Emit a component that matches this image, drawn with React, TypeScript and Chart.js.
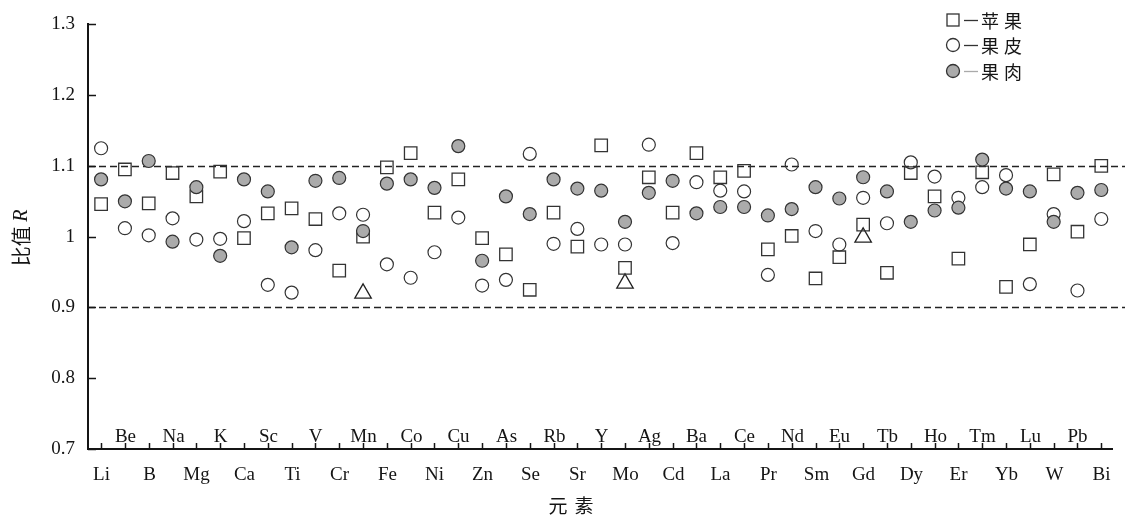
import React, { useEffect, useRef } from "react";
import { Chart, registerables } from "chart.js";

Chart.register(...registerables);

// ---- data ----
const elements = [
  "Li", "Be", "B", "Na", "Mg", "K", "Ca", "Sc", "Ti", "V", "Cr", "Mn", "Fe", "Co", "Ni",
  "Cu", "Zn", "As", "Se", "Rb", "Sr", "Y", "Mo", "Ag", "Cd", "Ba", "La", "Ce", "Pr", "Nd",
  "Sm", "Eu", "Gd", "Tb", "Dy", "Ho", "Er", "Tm", "Yb", "Lu", "W", "Pb", "Bi",
];

// 苹果 (square)
const appleValues = [
  1.046, 1.095, 1.047, 1.090, 1.057, 1.092, 0.998, 1.033, 1.040, 1.025, 0.952, 1.000, 1.098, 1.118, 1.034,
  1.081, 0.998, 0.975, 0.925, 1.034, 0.986, 1.129, 0.956, 1.084, 1.034, 1.118, 1.084, 1.093, 0.982, 1.001,
  0.941, 0.971, 1.017, 0.949, 1.090, 1.057, 0.969, 1.091, 0.929, 0.989, 1.088, 1.007, 1.100,
];

// 果皮 (open circle)
const peelValues = [
  1.125, 1.012, 1.002, 1.026, 0.996, 0.997, 1.022, 0.932, 0.921, 0.981, 1.033, 1.031, 0.961, 0.942, 0.978,
  1.027, 0.931, 0.939, 1.117, 0.990, 1.011, 0.989, 0.989, 1.130, 0.991, 1.077, 1.065, 1.064, 0.946, 1.102,
  1.008, 0.989, 1.055, 1.019, 1.105, 1.085, 1.055, 1.070, 1.087, 0.933, 1.032, 0.924, 1.025,
];

// 果肉 (filled circle)
const fleshValues = [
  1.081, 1.050, 1.107, 0.993, 1.070, 0.973, 1.081, 1.064, 0.985, 1.079, 1.083, 1.008, 1.075, 1.081, 1.069,
  1.128, 0.966, 1.057, 1.032, 1.081, 1.068, 1.065, 1.021, 1.062, 1.079, 1.033, 1.042, 1.042, 1.030, 1.039,
  1.070, 1.054, 1.084, 1.064, 1.021, 1.037, 1.041, 1.109, 1.068, 1.064, 1.021, 1.062, 1.066,
];

// triangle markers (not in legend)
const triangleElements = ["Mn", "Mo", "Gd"];
const triangleValues = [0.920, 0.934, 0.999];

const referenceLines = [1.1, 0.9];
const yMin = 0.7;
const yMax = 1.3;
const yStep = 0.1;

const legendLabels = ["苹果", "果皮", "果肉"];
const xTitle = "元素";
const yTitleCJK = "比值";
const yTitleVar = "R";

const SERIF = '"Liberation Serif", "Times New Roman", serif';
const CJK = '"Noto Sans CJK SC", "Liberation Serif", sans-serif';
const INK = "#151515";
const FILL_GRAY = "#ababab";

const toPoints = (vals: number[]) => vals.map((v, i) => ({ x: i, y: v }));

const decorPlugin = {
  id: "decor",
  beforeDatasetsDraw(chart: any) {
    const { ctx, chartArea, scales } = chart;
    const y = scales.y;
    ctx.save();
    ctx.strokeStyle = "#222";
    ctx.lineWidth = 1.5;
    ctx.setLineDash([7, 4]);
    for (const v of referenceLines) {
      const py = Math.round(y.getPixelForValue(v)) + 0.5;
      ctx.beginPath();
      ctx.moveTo(chartArea.left, py);
      ctx.lineTo(chart.width - 8, py);
      ctx.stroke();
    }
    ctx.restore();
  },
  afterDraw(chart: any) {
    const { ctx, chartArea, scales } = chart;
    const x = scales.x;
    const y = scales.y;
    ctx.save();
    ctx.setLineDash([]);
    ctx.strokeStyle = INK;
    ctx.lineWidth = 1.5;
    // inward y tick marks
    for (let v = yMin; v <= yMax + 1e-9; v += yStep) {
      const py = Math.round(y.getPixelForValue(v)) + 0.5;
      ctx.beginPath();
      ctx.moveTo(chartArea.left, py);
      ctx.lineTo(chartArea.left + 8, py);
      ctx.stroke();
    }
    // upward x tick marks + two-row labels
    ctx.fillStyle = INK;
    ctx.font = `19px ${SERIF}`;
    ctx.textAlign = "center";
    ctx.textBaseline = "alphabetic";
    elements.forEach((el, i) => {
      const px = Math.round(x.getPixelForValue(i)) + 0.5;
      ctx.beginPath();
      ctx.moveTo(px, chartArea.bottom);
      ctx.lineTo(px, chartArea.bottom - 6);
      ctx.stroke();
      if (i % 2 === 0) ctx.fillText(el, px, chartArea.bottom + 31);
      else ctx.fillText(el, px, chartArea.bottom - 7);
    });

    // x title
    ctx.font = `19px ${CJK}`;
    ctx.textBaseline = "middle";
    const xt = Array.from(xTitle);
    const xc = 571;
    xt.forEach((ch, k) => {
      ctx.fillText(ch, xc + (k - (xt.length - 1) / 2) * 26, 506);
    });

    // y title (rotated)
    ctx.save();
    ctx.translate(21, 238);
    ctx.rotate(-Math.PI / 2);
    ctx.textAlign = "left";
    ctx.textBaseline = "middle";
    ctx.font = `20px ${CJK}`;
    const w1 = ctx.measureText(yTitleCJK + " ").width;
    ctx.font = `italic 20px ${SERIF}`;
    const w2 = ctx.measureText(yTitleVar).width;
    const start = -(w1 + w2) / 2;
    ctx.font = `20px ${CJK}`;
    ctx.fillText(yTitleCJK + " ", start, 0);
    ctx.font = `italic 20px ${SERIF}`;
    ctx.fillText(yTitleVar, start + w1, 1);
    ctx.restore();

    // legend
    const lx = 953;
    const rows = [20, 45, 71];
    ctx.lineWidth = 1.3;
    ctx.strokeStyle = "#333";
    // square
    ctx.strokeRect(lx - 6, rows[0] - 6, 12, 12);
    // open circle
    ctx.beginPath();
    ctx.arc(lx, rows[1], 6.5, 0, Math.PI * 2);
    ctx.stroke();
    // filled circle
    ctx.beginPath();
    ctx.arc(lx, rows[2], 6.5, 0, Math.PI * 2);
    ctx.fillStyle = FILL_GRAY;
    ctx.fill();
    ctx.stroke();
    // dashes
    const dashColors = ["#333", "#333", "#aaa"];
    rows.forEach((ry, k) => {
      ctx.strokeStyle = dashColors[k];
      ctx.lineWidth = 1.3;
      ctx.beginPath();
      ctx.moveTo(964, ry + 0.5);
      ctx.lineTo(978, ry + 0.5);
      ctx.stroke();
    });
    ctx.fillStyle = INK;
    ctx.font = `18px ${CJK}`;
    ctx.textAlign = "center";
    ctx.textBaseline = "middle";
    legendLabels.forEach((lab, k) => {
      Array.from(lab).forEach((ch, j) => {
        ctx.fillText(ch, 990 + j * 23, rows[k] + 1);
      });
    });
    ctx.restore();
  },
};

export default function App() {
  const canvasRef = useRef<HTMLCanvasElement | null>(null);

  useEffect(() => {
    const canvas = canvasRef.current;
    if (!canvas) return;
    const chart = new Chart(canvas, {
      type: "scatter",
      data: {
        datasets: [
          {
            label: legendLabels[2],
            data: toPoints(fleshValues),
            pointStyle: "circle",
            pointRadius: 6.5,
            pointHoverRadius: 6.5,
            backgroundColor: FILL_GRAY,
            borderColor: "#333",
            borderWidth: 1.2,
            order: 0,
          },
          {
            label: legendLabels[1],
            data: toPoints(peelValues),
            pointStyle: "circle",
            pointRadius: 6.5,
            pointHoverRadius: 6.5,
            backgroundColor: "rgba(0,0,0,0)",
            borderColor: "#333",
            borderWidth: 1.2,
            order: 1,
          },
          {
            label: legendLabels[0],
            data: toPoints(appleValues),
            pointStyle: "rect",
            pointRadius: 8.8,
            pointHoverRadius: 8.8,
            backgroundColor: "rgba(0,0,0,0)",
            borderColor: "#333",
            borderWidth: 1.3,
            order: 2,
          },
          {
            label: "triangle",
            data: triangleElements.map((el, k) => ({ x: elements.indexOf(el), y: triangleValues[k] })),
            pointStyle: "triangle",
            pointRadius: 9.5,
            pointHoverRadius: 9.5,
            backgroundColor: "rgba(0,0,0,0)",
            borderColor: "#222",
            borderWidth: 1.3,
            order: 3,
          },
        ],
      },
      options: {
        animation: false,
        responsive: false,
        events: [],
        layout: { padding: { top: 17, right: 21, bottom: 0, left: 0 } },
        plugins: {
          legend: { display: false },
          tooltip: { enabled: false },
          title: { display: false },
        },
        scales: {
          x: {
            type: "linear",
            min: -0.55,
            max: 42.45,
            grid: { display: false, drawTicks: false },
            border: { display: true, color: INK, width: 2 },
            ticks: { display: false },
            afterFit: (scale: any) => {
              scale.height = 68;
            },
          },
          y: {
            type: "linear",
            min: yMin,
            max: yMax,
            grid: { display: false, drawTicks: false },
            border: { display: true, color: INK, width: 2 },
            ticks: {
              stepSize: yStep,
              padding: 13,
              color: INK,
              font: { family: SERIF, size: 19 },
              callback: (v: any) => String(Math.round(Number(v) * 10) / 10),
            },
            afterFit: (scale: any) => {
              scale.width = 88;
            },
          },
        },
      },
      plugins: [decorPlugin],
    });
    return () => chart.destroy();
  }, []);

  return (
    <div style={{ position: "absolute", left: 0, top: 0, width: 1133, height: 517, background: "#fff" }}>
      <canvas ref={canvasRef} width={1133} height={517} style={{ display: "block" }} />
    </div>
  );
}
